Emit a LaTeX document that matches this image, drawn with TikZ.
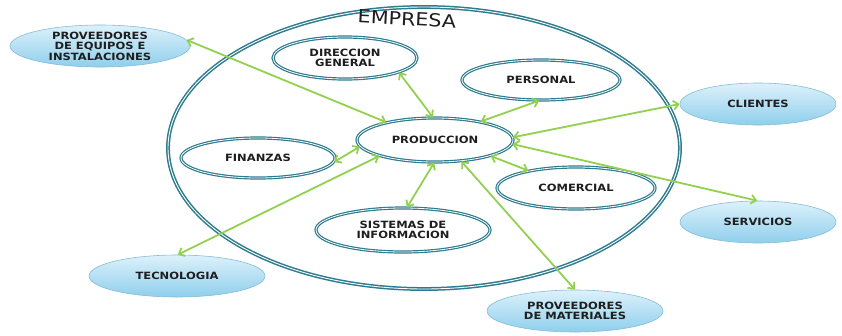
\documentclass[tikz,border=0pt]{standalone}
\usepackage{fontspec}
\setmainfont{DejaVu Sans}
\newfontfamily\rotulo[FakeStretch=1.15]{DejaVu Sans}
\usetikzlibrary{shapes.geometric,arrows.meta}
\definecolor{tealline}{HTML}{2C7B8E}
\definecolor{arrgreen}{HTML}{92D050}
\definecolor{bluetop}{HTML}{DDF1FB}
\definecolor{bluebot}{HTML}{8FCFEC}
\definecolor{blueline}{HTML}{86BCD6}
\definecolor{texto}{HTML}{1E1E1E}
\tikzset{
  area/.style={ellipse, draw=tealline, line width=1.2pt, double=white, double distance=.8pt,
    fill=white, inner sep=0pt, inner ysep=-3pt, align=center, text=texto,
    font=\rotulo\fontsize{10}{10.5}\selectfont\bfseries},
  outside/.style={ellipse, draw=blueline, line width=.6pt, top color=bluetop, bottom color=bluebot,
    inner sep=0pt, inner ysep=-3pt, align=center, text=texto,
    font=\rotulo\fontsize{10}{10.5}\selectfont\bfseries},
  link/.style={draw=arrgreen, line width=1.8pt, {Straight Barb[length=5pt,width=9pt]}-{Straight Barb[length=5pt,width=9pt]}}
}
\begin{document}
\begin{tikzpicture}[x=1pt,y=-1pt]
\useasboundingbox (0,0) rectangle (842,335);
% la empresa
\node [ellipse, draw=tealline, line width=1.5pt, double=white, double distance=.9pt,
  minimum width=512, minimum height=282] (empresa) at (424,148) {};
\node [font=\rotulo\fontsize{18}{20}\selectfont, text=texto, rotate=-3] (titulo) at (407,19) {EMPRESA};

\node [area, minimum width=144, minimum height=42] (direccion) at (345,58) {DIRECCION\\GENERAL};
\node [area, minimum width=158, minimum height=40] (personal) at (541,80) {PERSONAL};
\node [area, minimum width=156, minimum height=44] (produccion) at (435,140) {PRODUCCION};
\node [area, minimum width=154, minimum height=40] (finanzas) at (258,158) {FINANZAS};
\node [area, minimum width=158, minimum height=42] (comercial) at (576,188) {COMERCIAL};
\node [area, minimum width=174, minimum height=44] (sistemas) at (403,230) {SISTEMAS DE\\INFORMACION};

% entorno
\node [outside, minimum width=180, minimum height=42] (equipos) at (100,46) {PROVEEDORES\\DE EQUIPOS E\\INSTALACIONES};
\node [outside, minimum width=156, minimum height=42] (clientes) at (758,104) {CLIENTES};
\node [outside, minimum width=156, minimum height=42] (servicios) at (758,222) {SERVICIOS};
\node [outside, minimum width=176, minimum height=42] (tecnologia) at (177,276) {TECNOLOGIA};
\node [outside, minimum width=176, minimum height=42] (materiales) at (575,311) {PROVEEDORES\\DE MATERIALES};

% relaciones
\draw [link] (equipos.4) -- (produccion.160);
\draw [link] (direccion.345) -- (produccion.95);
\draw [link] (personal.265) -- (produccion.22);
\draw [link] (clientes.180) -- (produccion.2);
\draw [link] (servicios.92) -- (produccion.357);
\draw [link] (finanzas.357) -- (produccion.185);
\draw [link] (tecnologia.88) -- (produccion.196);
\draw [link] (sistemas.80) -- (produccion.268);
\draw [link] (materiales.90) -- (produccion.321);
\draw [link] (comercial.160) -- (produccion.344);
\end{tikzpicture}
\end{document}
